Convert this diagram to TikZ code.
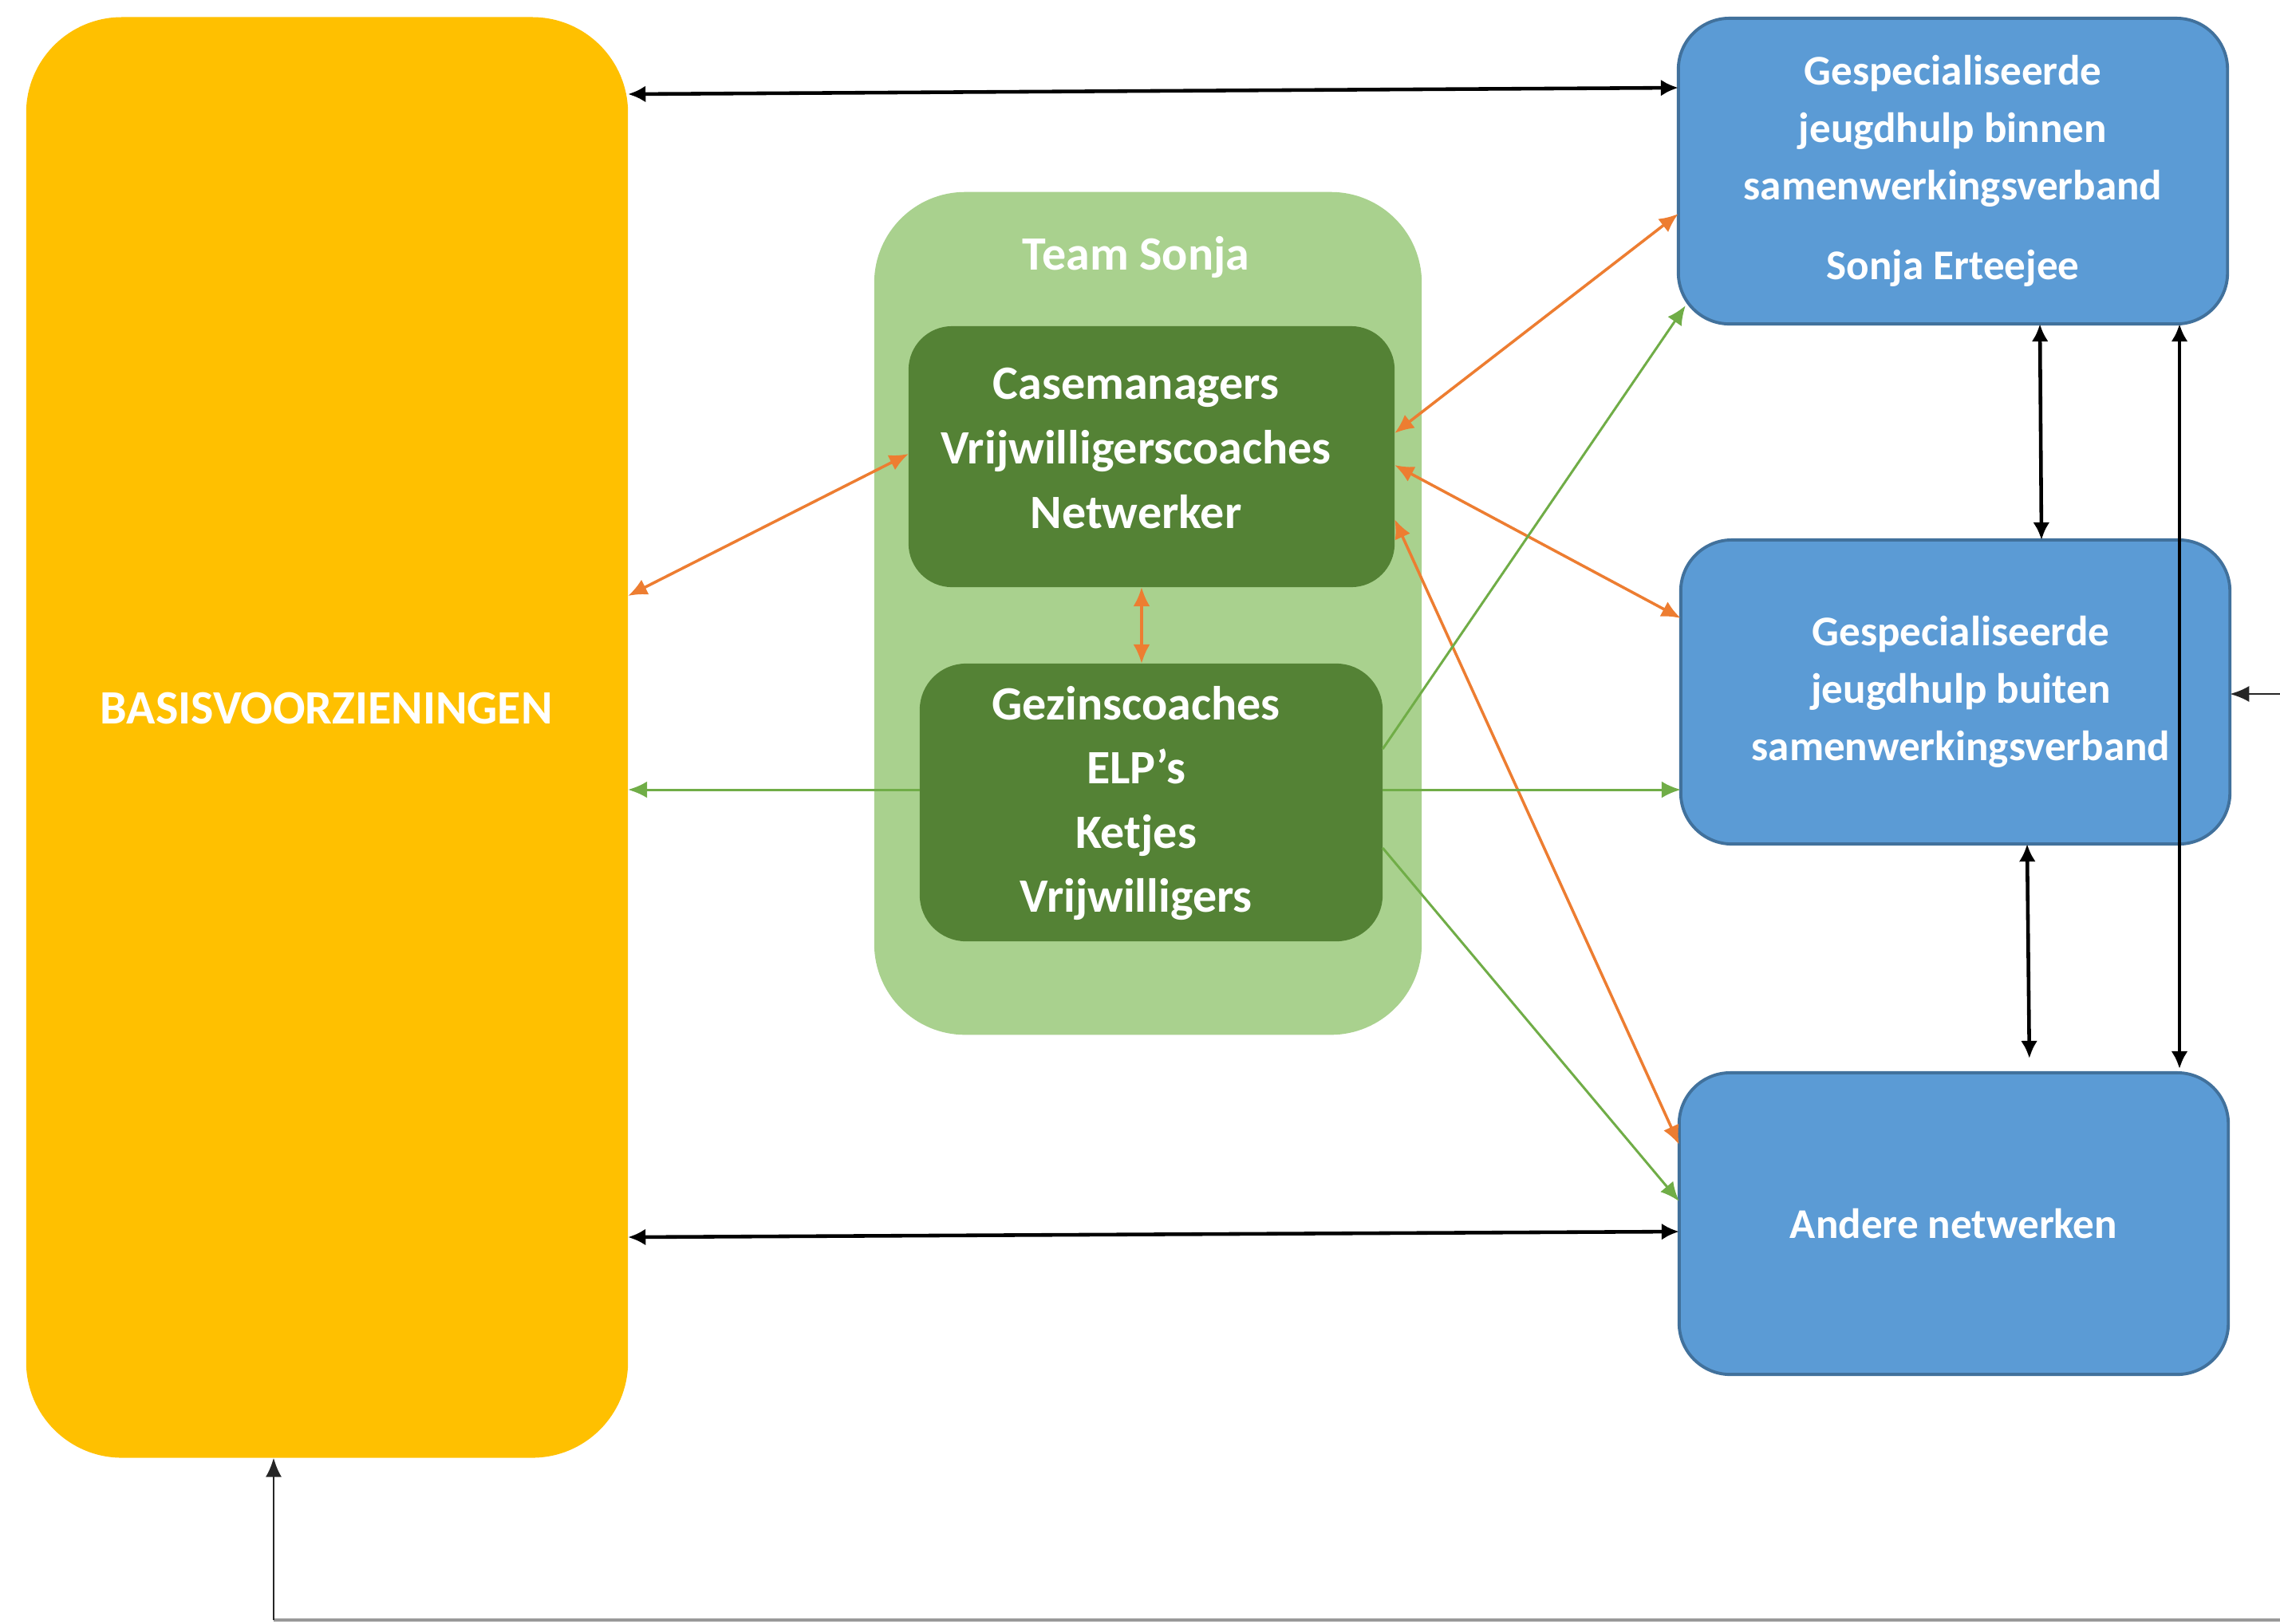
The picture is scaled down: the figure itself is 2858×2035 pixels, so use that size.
\documentclass[tikz,border=0pt]{standalone}
\usepackage{fontspec}
\setmainfont{Carlito}
\usetikzlibrary{arrows.meta,calc}
\definecolor{yel}{HTML}{FFC000}
\definecolor{lgr}{HTML}{A9D18E}
\definecolor{dgr}{HTML}{548235}
\definecolor{blu}{HTML}{5B9BD5}
\definecolor{bluedge}{HTML}{41719C}
\definecolor{orn}{HTML}{ED7D31}
\definecolor{grl}{HTML}{70AD47}
\begin{document}
\begin{tikzpicture}[x=0.01cm,y=-0.01cm,
  box/.style={rectangle,inner sep=0pt,outer sep=0pt},
  bigtxt/.style={text=white,align=center,font=\bfseries\fontsize{17.07pt}{22.9pt}\selectfont},
  bluebox/.style={box,fill=blu,draw=bluedge,line width=1.1pt,rounded corners=0.64cm,minimum width=6.88cm,
     text=white,align=center,font=\bfseries\fontsize{15.1pt}{20.5pt}\selectfont},
  blk/.style={draw=black,line width=1.3pt,>={Latex[length=2.2mm,width=2.1mm]}},
  ora/.style={draw=orn,line width=1pt,<->,>={Latex[length=2.4mm,width=2.1mm]}},
  grn/.style={draw=grl,line width=0.85pt,->,>={Latex[length=2.4mm,width=2.1mm]}},
  thinblk/.style={draw=black!85,line width=0.8pt,>={Latex[length=2.4mm,width=2mm]}}
]
\useasboundingbox (0,0) rectangle (2858,2035);
\fill[white] (0,0) rectangle (2858,2035);

% boxes
\node[box,fill=yel,rounded corners=1.2cm,minimum width=7.54cm,minimum height=18.05cm] (y) at (410,924.5) {};
\node[bigtxt] (yt) at (409,888) {BASISVOORZIENINGEN};

\node[box,fill=lgr,rounded corners=1.14cm,minimum width=6.86cm,minimum height=10.56cm] (ts) at (1439,769) {};
\node[bigtxt] (tst) at (1424,322) {Team Sonja};

\node[box,fill=dgr,rounded corners=0.545cm,minimum width=6.09cm,minimum height=3.27cm] (g1) at (1443.5,572.5) {};
\node[bigtxt] (g1t) at (1424,562) {Casemanagers\\Vrijwilligerscoaches\\Netwerker};

\node[box,fill=dgr,rounded corners=0.58cm,minimum width=5.80cm,minimum height=3.48cm] (g2) at (1443,1006) {};
\node[bigtxt] (g2t) at (1424,1007) {Gezinscoaches\\ELP’s\\Ketjes\\Vrijwilligers};

\node[bluebox,minimum height=3.83cm] (b1) at (2448,214.5)
  {Gespecialiseerde\\jeugdhulp binnen\\samenwerkingsverband\\[0.28cm]Sonja Erteejee};
\node[bluebox,minimum height=3.81cm] (b2) at (2451,867.5)
  {\hspace*{0.14cm}Gespecialiseerde\\\hspace*{0.14cm}jeugdhulp buiten\\\hspace*{0.14cm}samenwerkingsverband};
\node[bluebox,minimum height=3.78cm] (b3) at (2449,1534) {Andere netwerken};

% black connectors
\draw[blk,<->] (y.east |- 0,118) -- (b1.west |- 0,110);
\draw[blk,<->] (y.east |- 0,1551) -- (b3.west |- 0,1544);
\draw[blk,<->] (b1.south -| 2557,0) -- (b2.north -| 2559,0);
\draw[blk,<->,shorten >=0.18cm] (b2.south -| 2541,0) -- (b3.north -| 2544,0);
\draw[blk,<->,shorten >=0.05cm] (b1.south -| 2732,0) -- (b3.north -| 2732,0);

% orange connectors
\draw[ora] (y.east |- 0,747) -- (g1.west |- 0,569);
\draw[ora] (g1.east |- 0,543) -- (b1.west |- 0,268);
\draw[ora] (g1.east |- 0,583) -- (b2.west |- 0,775);
\draw[ora] (g1.east |- 0,651) -- (b3.west |- 0,1435);
\draw[ora] (g1.south -| 1431,0) -- (g2.north -| 1431,0);

% green connectors
\draw[grn] (g2.west |- 0,990) -- (y.east |- 0,990);
\draw[grn] (g2.east |- 0,990) -- (b2.west |- 0,990);
\draw[grn] (g2.east |- 0,939) -- ($(b1.south west)+(9,-23)$);
\draw[grn] (g2.east |- 0,1063) -- (b3.west |- 0,1506);

% outer connectors
\coordinate (rin) at (2858,870);
\draw[thinblk,->] (rin) -- (b2.east |- rin);
\coordinate (bcorner) at (2858,2031);
\coordinate (bturn) at (343,2031);
\draw[draw=black!40,line width=0.9pt] (bcorner) -- (bturn);
\draw[thinblk,->] (bturn) -- (y.south -| bturn);
\end{tikzpicture}
\end{document}
